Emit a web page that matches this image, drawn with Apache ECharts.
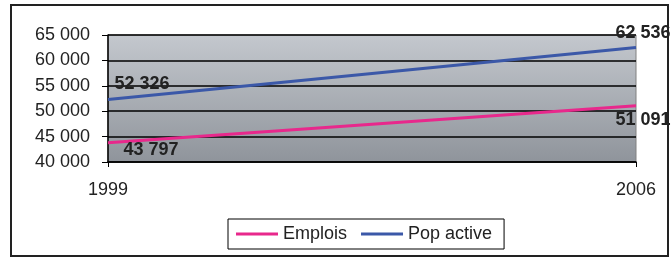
<!DOCTYPE html>
<html>
<head>
<meta charset="utf-8">
<script src="https://cdn.jsdelivr.net/npm/echarts@6/dist/echarts.min.js"></script>
<style>
  html, body { margin: 0; padding: 0; background: #fff; }
  #chart { width: 671px; height: 259px; }
</style>
</head>
<body>
<div id="chart"></div>
<script>
  // données
  const years = ["1999", "2006"];
  const emplois = [43797, 51091];
  const popActive = [52326, 62536];
  const yTicks = { min: 40000, max: 65000, interval: 5000 };

  const font = "Liberation Sans, Arial, sans-serif";
  const pink = "#e8288c";
  const blue = "#3b58a8";
  const fmt = (v) => String(v).replace(/\B(?=(\d{3})+(?!\d))/g, " ");

  // placement des étiquettes (style)
  function withLabels(values, offsets) {
    return values.map((v, i) => ({
      value: v,
      label: {
        show: true,
        position: "inside",
        offset: offsets[i],
      },
    }));
  }

  let labelStyle = {
    color: "#222",
    fontSize: 18,
    fontWeight: "bold",
    fontFamily: font,
    formatter: (p) => fmt(p.value),
  };

  let myChart = echarts.init(document.getElementById("chart"));
  let option = {
    animation: false,
    textStyle: { fontFamily: font },
    grid: {
      left: 108,
      right: 35,
      top: 35,
      bottom: 97,
      show: true,
      borderColor: "#808080",
      borderWidth: 1,
      //dégradé du fond
      backgroundColor: new echarts.graphic.LinearGradient(0, 0, 0, 1, [
        { offset: 0, color: "#c4c8ce" },
        { offset: 1, color: "#8f949b" },
      ]),
    },
    legend: {
      left: 228,
      top: 219,
      padding: [6, 12, 6, 8],
      borderColor: "#000",
      borderWidth: 1,
      itemWidth: 42,
      itemHeight: 3,
      itemGap: 14,
      icon: "rect",
      textStyle: { fontSize: 18, color: "#222", fontFamily: font },
      data: [
        { name: "Emplois", itemStyle: { color: pink, opacity: 1 } },
        { name: "Pop active", itemStyle: { color: blue, opacity: 1 } },
      ],
    },
    xAxis: {
      type: "category",
      data: years,
      boundaryGap: false,
      axisLine: { lineStyle: { color: "#000", width: 1.5 } },
      axisTick: { show: true, length: 5, lineStyle: { color: "#000" } },
      axisLabel: { fontSize: 18, color: "#222", margin: 19, fontFamily: font },
    },
    yAxis: {
      type: "value",
      min: yTicks.min,
      max: yTicks.max,
      interval: yTicks.interval,
      axisLine: { show: true, lineStyle: { color: "#000", width: 1.5 } },
      axisTick: { show: true, length: 6, lineStyle: { color: "#000" } },
      axisLabel: {
        fontSize: 18,
        color: "#222",
        margin: 18,
        fontFamily: font,
        formatter: fmt,
      },
      splitLine: { lineStyle: { color: "#000", width: 1.5 } },
    },
    series: [
      {
        name: "Emplois",
        type: "line",
        data: withLabels(emplois, [[43, 7], [7, 14]]),
        symbol: "circle",
        symbolSize: 0.1,
        itemStyle: { color: pink },
        lineStyle: { color: pink, width: 3 },
        label: labelStyle,
        z: 3,
      },
      {
        name: "Pop active",
        type: "line",
        data: withLabels(popActive, [[34, -15], [7, -14]]),
        symbol: "circle",
        symbolSize: 0.1,
        itemStyle: { color: blue },
        lineStyle: { color: blue, width: 3 },
        label: labelStyle,
        z: 3,
      },
    ],
    graphic: [
      {
        type: "rect",
        shape: { x: 11, y: 5, width: 657, height: 251 },
        style: { fill: "none", stroke: "#222", lineWidth: 2 },
        z: -1,
      },
    ],
  };
  myChart.setOption(option);
</script>
</body>
</html>
